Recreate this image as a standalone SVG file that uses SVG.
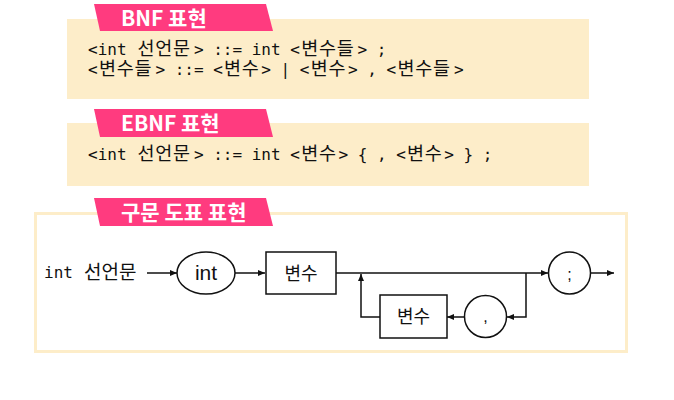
<svg xmlns="http://www.w3.org/2000/svg" width="674" height="400" viewBox="0 0 674 400">
  <style>
    .panel { fill: #FDEDC9; }
    .tab { fill: #FF3B7F; }
    .tabtxt { font-family: "Noto Sans CJK KR", "Noto Sans", sans-serif; font-weight: bold; font-size: 21px; fill: #FFFFFF; }
    .code { font-family: "DejaVu Sans Mono", "Liberation Mono", monospace; font-size: 16px; fill: #111111; }
    .ko { font-family: "Noto Sans CJK KR", sans-serif; font-size: 18.5px; letter-spacing: 0.76px; }
    .shape { fill: #FFFFFF; stroke: #111111; stroke-width: 1.5; }
    .lbl { font-family: "Noto Sans CJK KR", "Liberation Sans", sans-serif; font-size: 18px; fill: #111111; text-anchor: middle; }
    .sym { font-family: "Liberation Sans", Arial, sans-serif; fill: #111111; text-anchor: middle; }
    .conn { fill: none; stroke: #111111; stroke-width: 1.5; }
  </style>
  <defs>
    <marker id="arr" markerUnits="userSpaceOnUse" markerWidth="8" markerHeight="6" refX="7" refY="3" orient="auto">
      <path d="M0,0 L7,3 L0,6 z" fill="#111111"/>
    </marker>
  </defs>

  <!-- BNF section -->
  <g id="bnf">
    <rect class="panel" x="67" y="19" width="522" height="80"/>
    <polygon class="tab" points="94,4 266,4 273,31 100,31"/>
    <text class="tabtxt" x="121" y="26">BNF 표현</text>
    <text class="code"><tspan x="88" y="55">&lt;int</tspan><tspan class="ko" x="137.5" y="55">선언문</tspan><tspan x="193.9" y="55">&gt; ::= int &lt;</tspan><tspan class="ko" x="301.2" y="55">변수들</tspan><tspan x="357.6" y="55">&gt; ;</tspan><tspan x="88" y="75">&lt;</tspan><tspan class="ko" x="98.9" y="75">변수들</tspan><tspan x="155.4" y="75">&gt; ::= &lt;</tspan><tspan class="ko" x="224.1" y="75">변수</tspan><tspan x="261.3" y="75">&gt; | &lt;</tspan><tspan class="ko" x="310.8" y="75">변수</tspan><tspan x="348" y="75">&gt; , &lt;</tspan><tspan class="ko" x="397.5" y="75">변수들</tspan><tspan x="453.9" y="75">&gt;</tspan></text>
  </g>

  <!-- EBNF section -->
  <g id="ebnf">
    <rect class="panel" x="67" y="123" width="522" height="63"/>
    <polygon class="tab" points="94,109 266,109 273,137 100,137"/>
    <text class="tabtxt" x="121" y="131">EBNF 표현</text>
    <text class="code" y="160"><tspan x="88">&lt;int</tspan><tspan class="ko" x="137.5">선언문</tspan><tspan x="193.9">&gt; ::= int &lt;</tspan><tspan class="ko" x="301.2">변수</tspan><tspan x="338.4">&gt; { , &lt;</tspan><tspan class="ko" x="407.1">변수</tspan><tspan x="444.3">&gt; } ;</tspan></text>
  </g>

  <!-- Syntax diagram section -->
  <g id="syntax-frame">
    <rect x="35.5" y="213.5" width="591" height="138" fill="#FFFFFF" stroke="#FDEDC9" stroke-width="3"/>
    <polygon class="tab" points="94,198 266,198 273,226 100,226"/>
    <text class="tabtxt" x="121" y="220">구문 도표 표현</text>
  </g>

  <g id="start-label">
    <text x="44" y="278" font-family="DejaVu Sans Mono, monospace" font-size="16" fill="#111111">int</text>
    <text x="84" y="279" font-family="Noto Sans CJK KR, sans-serif" font-size="19" fill="#111111">선언문</text>
  </g>

  <g id="node-int">
    <ellipse class="shape" cx="206" cy="273" rx="29" ry="21"/>
    <text class="sym" x="206" y="280" font-size="21">int</text>
  </g>

  <g id="node-var1">
    <rect class="shape" x="266" y="252" width="70" height="42"/>
    <text class="lbl" x="301" y="280">변수</text>
  </g>

  <g id="node-semicolon">
    <circle class="shape" cx="569.5" cy="273" r="21"/>
    <text class="sym" x="569.5" y="280" font-size="16">;</text>
  </g>

  <g id="node-comma">
    <circle class="shape" cx="485.5" cy="316.5" r="21"/>
    <text class="sym" x="485.5" y="322" font-size="16">,</text>
  </g>

  <g id="node-var2">
    <rect class="shape" x="380" y="295" width="67" height="43"/>
    <text class="lbl" x="413.5" y="323">변수</text>
  </g>

  <g id="connectors">
    <line class="conn" x1="147" y1="273" x2="177" y2="273" marker-end="url(#arr)"/>
    <line class="conn" x1="235" y1="273" x2="265" y2="273" marker-end="url(#arr)"/>
    <line class="conn" x1="336" y1="273" x2="548" y2="273" marker-end="url(#arr)"/>
    <line class="conn" x1="591" y1="273" x2="614" y2="273" marker-end="url(#arr)"/>
    <path class="conn" d="M526,273 L526,317 L507,317" marker-end="url(#arr)"/>
    <line class="conn" x1="464" y1="317" x2="447" y2="317" marker-end="url(#arr)"/>
    <path class="conn" d="M380,317 L361,317 L361,274" marker-end="url(#arr)"/>
  </g>
</svg>
